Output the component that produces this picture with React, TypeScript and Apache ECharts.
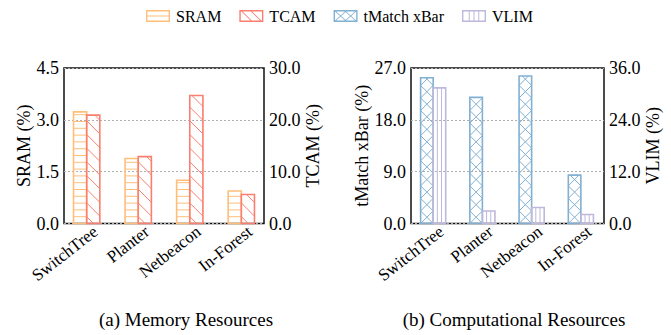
import React, { useEffect, useRef } from "react";
import * as echarts from "echarts";

const CATEGORIES = ["SwitchTree", "Planter", "Netbeacon", "In-Forest"];
const SRAM = [3.23, 1.88, 1.25, 0.94];
const TCAM = [20.9, 12.9, 24.7, 5.6];
const TMATCH = [25.3, 21.9, 25.6, 8.4];
const VLIM = [31.4, 2.9, 3.7, 2.1];

const SRAM_TICKS = { min: 0, max: 4.5, interval: 1.5 };
const TCAM_TICKS = { min: 0, max: 30, interval: 10 };
const TMATCH_TICKS = { min: 0, max: 27, interval: 9 };
const VLIM_TICKS = { min: 0, max: 36, interval: 12 };

const C_SRAM = "#FFBE7A";
const C_TCAM = "#FA7F6F";
const C_TMATCH = "#82B0D2";
const C_VLIM = "#BEB8DC";

const FONT = "'Liberation Serif', 'Times New Roman', serif";
const BAR_UNITS = 0.255;
const H_SPACING = 6.8;
const D_SPACING = 13.7;
const LABEL_SHIFT = 0.17;

function hatch(kind: string, x0: number, yb: number, w: number, H: number, color: string) {
  const out: any[] = [];
  const L = (u1: number, v1: number, u2: number, v2: number) =>
    out.push({
      type: "line",
      shape: { x1: x0 + u1, y1: yb - v1, x2: x0 + u2, y2: yb - v2 },
      style: { stroke: color, lineWidth: 1, fill: "none" },
    });
  if (kind === "h") {
    for (let v = H_SPACING; v < H - 0.5; v += H_SPACING) L(0, v, w, v);
  } else if (kind === "v") {
    for (let k = 1; k < 3; k++) L((w * k) / 3, 0, (w * k) / 3, H);
  } else if (kind === "d") {
    for (let c = D_SPACING * 0.5; c < H + w; c += D_SPACING) {
      const a = Math.max(0, c - H), b = Math.min(w, c);
      if (b > a) L(a, c - a, b, c - b);
    }
  } else if (kind === "x") {
    for (let c = 0; c < H + w; c += w) {
      const a = Math.max(0, c - H), b = Math.min(w, c);
      if (b > a) L(a, c - a, b, c - b);
    }
    for (let c = -w; c < H; c += w) {
      const a = Math.max(0, -c), b = Math.min(w, H - c);
      if (b > a) L(a, a + c, b, b + c);
    }
  }
  return out;
}

function makeRender(kind: string, side: number, color: string) {
  return (params: any, api: any) => {
    const cat = api.value(0);
    const val = api.value(1);
    const base = api.coord([cat, 0]);
    const top = api.coord([cat, val]);
    const bw = api.size([BAR_UNITS, 0])[0];
    const x0 = side < 0 ? base[0] - bw : base[0];
    const yb = base[1];
    const H = yb - top[1];
    const children = hatch(kind, x0, yb, bw, H, color);
    children.push({
      type: "rect",
      shape: { x: x0, y: top[1], width: bw, height: H },
      style: { fill: "none", stroke: color, lineWidth: 1.6 },
    });
    return { type: "group", children };
  };
}

// legend icon paths (24 x 12 box, frame with hole + hatch strokes)
const FRAME = "M0 0H24V12H0Z M1.4 1.4V10.6H22.6V1.4Z";
const ICON_SRAM = "path://" + FRAME + " M1.4 5.45H22.6V6.55H1.4Z";
const ICON_TCAM =
  "path://" + FRAME +
  " M2 1.4L3.2 1.4L12.4 10.6L11.2 10.6Z M11.5 1.4L12.7 1.4L21.9 10.6L20.7 10.6Z";
const ICON_TMATCH =
  "path://" + FRAME +
  " M1.4 1.4L2.6 1.4L12.6 10.6L11.4 10.6Z M11.4 1.4L12.6 1.4L22.6 10.6L21.4 10.6Z" +
  " M1.4 10.6L11.4 1.4L12.6 1.4L2.6 10.6Z M11.4 10.6L21.4 1.4L22.6 1.4L12.6 10.6Z";
const ICON_VLIM =
  "path://" + FRAME +
  " M6.7 1.4H7.7V10.6H6.7Z M11.5 1.4H12.5V10.6H11.5Z M16.3 1.4H17.3V10.6H16.3Z";

function xAxis(gridIndex: number, min: number, max: number) {
  return {
    type: "value",
    gridIndex,
    min,
    max,
    axisLine: { show: false },
    axisTick: { show: false },
    splitLine: { show: false },
    axisLabel: {
      customValues: CATEGORIES.map((_, i) => i + LABEL_SHIFT),
      formatter: (v: number) => CATEGORIES[Math.round(v - LABEL_SHIFT)] ?? "",
      rotate: 38,
      fontSize: 17,
      fontFamily: FONT,
      color: "#000",
      margin: 6,
    },
  };
}

function yAxis(gridIndex: number, ticks: any, name: string, position: string, nameGap: number, split: boolean) {
  return {
    type: "value",
    gridIndex,
    position,
    min: ticks.min,
    max: ticks.max,
    interval: ticks.interval,
    name,
    nameLocation: "middle",
    nameRotate: 90,
    nameGap,
    nameTextStyle: { fontSize: 18, fontFamily: FONT, color: "#000" },
    axisLine: { show: false },
    axisTick: { show: false },
    axisLabel: {
      formatter: (v: number) => v.toFixed(1),
      fontSize: 18,
      fontFamily: FONT,
      color: "#000",
      margin: 5,
    },
    splitLine: {
      show: split,
      lineStyle: { color: "#b0b0b0", type: [2, 2], width: 1 },
    },
  };
}

export default function App() {
  const ref = useRef<HTMLDivElement>(null);
  useEffect(() => {
    if (!ref.current) return;
    const chart = echarts.init(ref.current, null, { renderer: "svg" });
    const option: any = {
      animation: false,
      backgroundColor: "#fff",
      legend: {
        left: 146,
        top: 8,
        padding: 0,
        itemWidth: 24,
        itemHeight: 12,
        itemGap: 18,
        textStyle: { fontSize: 16, fontFamily: FONT, color: "#000", padding: [0, 0, 0, 1] },
        itemStyle: { borderWidth: 0 },
        data: [
          { name: "SRAM", icon: ICON_SRAM, itemStyle: { color: C_SRAM } },
          { name: "TCAM", icon: ICON_TCAM, itemStyle: { color: C_TCAM } },
          { name: "tMatch xBar", icon: ICON_TMATCH, itemStyle: { color: C_TMATCH } },
          { name: "VLIM", icon: ICON_VLIM, itemStyle: { color: C_VLIM } },
        ],
      },
      grid: [
        { left: 64, top: 68, width: 200, height: 155.5, show: true, borderColor: "#111", borderWidth: 1.5, containLabel: false },
        { left: 411, top: 68, width: 193, height: 155.5, show: true, borderColor: "#111", borderWidth: 1.5, containLabel: false },
      ],
      xAxis: [xAxis(0, -0.44, 3.44), xAxis(1, -0.45, 3.47)],
      yAxis: [
        yAxis(0, SRAM_TICKS, "SRAM (%)", "left", 30, true),
        yAxis(0, TCAM_TICKS, "TCAM (%)", "right", 39, false),
        yAxis(1, TMATCH_TICKS, "tMatch xBar (%)", "left", 40, true),
        yAxis(1, VLIM_TICKS, "VLIM (%)", "right", 37, false),
      ],
      series: [
        { type: "custom", name: "SRAM", xAxisIndex: 0, yAxisIndex: 0, encode: { x: 0, y: 1 }, itemStyle: { color: C_SRAM }, data: SRAM.map((v, i) => [i, v]), renderItem: makeRender("h", -1, C_SRAM) },
        { type: "custom", name: "TCAM", xAxisIndex: 0, yAxisIndex: 1, encode: { x: 0, y: 1 }, itemStyle: { color: C_TCAM }, data: TCAM.map((v, i) => [i, v]), renderItem: makeRender("d", 1, C_TCAM) },
        { type: "custom", name: "tMatch xBar", xAxisIndex: 1, yAxisIndex: 2, encode: { x: 0, y: 1 }, itemStyle: { color: C_TMATCH }, data: TMATCH.map((v, i) => [i, v]), renderItem: makeRender("x", -1, C_TMATCH) },
        { type: "custom", name: "VLIM", xAxisIndex: 1, yAxisIndex: 3, encode: { x: 0, y: 1 }, itemStyle: { color: C_VLIM }, data: VLIM.map((v, i) => [i, v]), renderItem: makeRender("v", 1, C_VLIM) },
      ],
      graphic: [
        { type: "text", x: 186, y: 319, style: { text: "(a) Memory Resources", fontSize: 19, fontFamily: FONT, fill: "#000", align: "center", verticalAlign: "middle" } },
        { type: "text", x: 514, y: 319, style: { text: "(b) Computational Resources", fontSize: 19, fontFamily: FONT, fill: "#000", align: "center", verticalAlign: "middle" } },
      ],
    };
    chart.setOption(option);
    return () => chart.dispose();
  }, []);
  return <div ref={ref} style={{ position: "absolute", left: 0, top: 0, width: 671, height: 335 }} />;
}
